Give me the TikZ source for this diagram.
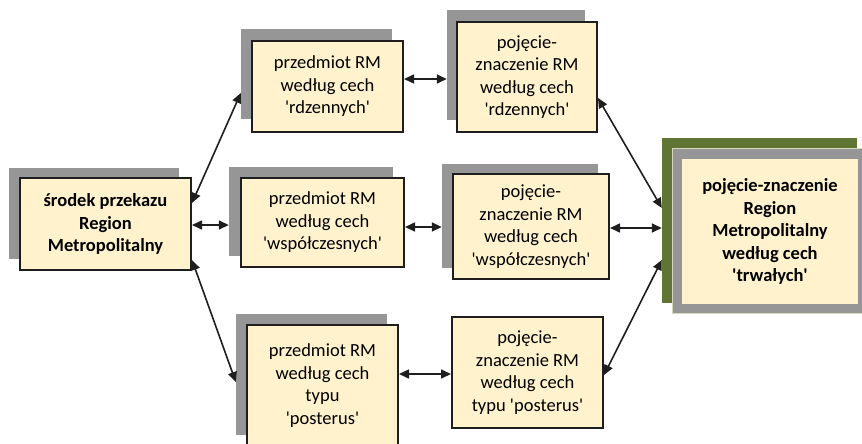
\documentclass[tikz,border=0pt]{standalone}
\usepackage{fontspec}
\setmainfont{Carlito}
\usetikzlibrary{arrows.meta}
\definecolor{cream}{RGB}{255,242,204}
\definecolor{shgray}{RGB}{150,150,150}
\definecolor{mygreen}{RGB}{96,116,52}
\definecolor{edgecol}{RGB}{30,30,30}
\definecolor{paleline}{RGB}{215,215,190}
\newcommand\sq{\textquotesingle}
\begin{document}
\begin{tikzpicture}[x=1pt,y=-1pt,
  mbox/.style={draw=edgecol, line width=2pt, fill=cream, align=center, inner sep=0pt,
    font=\fontsize{18.5}{22.5}\selectfont},
  shbox/.style={fill=shgray, draw=none, inner sep=0pt},
  link/.style={{Triangle[length=10pt,width=9pt]}-{Triangle[length=10pt,width=9pt]},
    line width=1.6pt, draw=edgecol}]
\useasboundingbox (0,0) rectangle (862,444);

% shadows
\node[shbox, minimum width=170pt, minimum height=91pt] (Ls) at (94,213.5) {};
\node[shbox, minimum width=151pt, minimum height=90pt] (P1s) at (316.5,74) {};
\node[shbox, minimum width=138pt, minimum height=110pt] (C1s) at (516,65) {};
\node[shbox, minimum width=164pt, minimum height=89pt] (P2s) at (311,211.5) {};
\node[shbox, minimum width=156pt, minimum height=104pt] (C2s) at (520,216) {};
\node[shbox, minimum width=151pt, minimum height=121pt] (P3s) at (311.5,374.5) {};

% right composite box
\node[fill=mygreen, draw=none, inner sep=0pt, minimum width=195pt, minimum height=165pt] (Rg) at (759.5,220.5) {};
\node[fill=shgray, draw=paleline, line width=0.8pt, inner sep=0pt, minimum width=190pt, minimum height=165pt] (Rs) at (767,230.5) {};
\node[fill=cream, draw=none, inner sep=0pt, minimum width=176pt, minimum height=145pt,
  align=center, font=\fontsize{18.5}{22.5}\selectfont\bfseries] (R) at (770,231.5)
  {pojęcie-znaczenie\\Region\\Metropolitalny\\według cech\\\sq trwałych\sq};

% main boxes
\node[mbox, minimum width=171pt, minimum height=92pt, font=\fontsize{18.5}{22.5}\selectfont\bfseries] (L) at (105.5,224)
  {środek przekazu\\Region\\Metropolitalny};
\node[mbox, minimum width=151pt, minimum height=91pt] (P1) at (327.5,86.5)
  {przedmiot RM\\według cech\\\sq rdzennych\sq};
\node[mbox, minimum width=140pt, minimum height=110pt] (C1) at (527,77)
  {pojęcie-\\znaczenie RM\\według cech\\\sq rdzennych\sq};
\node[mbox, minimum width=163pt, minimum height=89pt] (P2) at (322.5,222.5)
  {przedmiot RM\\według cech\\\sq współczesnych\sq};
\node[mbox, minimum width=156pt, minimum height=105pt] (C2) at (531,226.5)
  {pojęcie-\\znaczenie RM\\według cech\\\sq współczesnych\sq};
\node[mbox, minimum width=151pt, minimum height=121pt] (P3) at (322.5,385.5)
  {przedmiot RM\\według cech\\typu\\\sq posterus\sq};
\node[mbox, minimum width=151pt, minimum height=111pt] (C3) at (527.5,372.5)
  {pojęcie-\\znaczenie RM\\według cech\\typu \sq posterus\sq};

% connectors
\draw[link] ([yshift=21pt]L.east) -- ([yshift=-19pt]P1s.west);
\draw[link] ([yshift=-1pt]L.east) -- ([yshift=-13.5pt]P2s.west);
\draw[link] ([yshift=-36pt]L.east) -- ([yshift=-7.5pt]P3s.west);
\draw[link] ([yshift=7.5pt]P1.east) -- ([yshift=-14pt]C1s.west);
\draw[link] ([yshift=-4.5pt]P2.east) -- ([yshift=-11pt]C2s.west);
\draw[link] ([yshift=11.5pt]P3.east) -- ([yshift=-1.5pt]C3.west);
\draw[link] ([yshift=-21pt]C1.east) -- ([yshift=12.5pt]Rg.west);
\draw[link] ([yshift=-1.5pt]C2.east) -- ([yshift=-7.5pt]Rg.west);
\draw[link] ([yshift=-2.5pt]C3.east) -- ([yshift=-39.5pt]Rg.west);
\end{tikzpicture}
\end{document}
